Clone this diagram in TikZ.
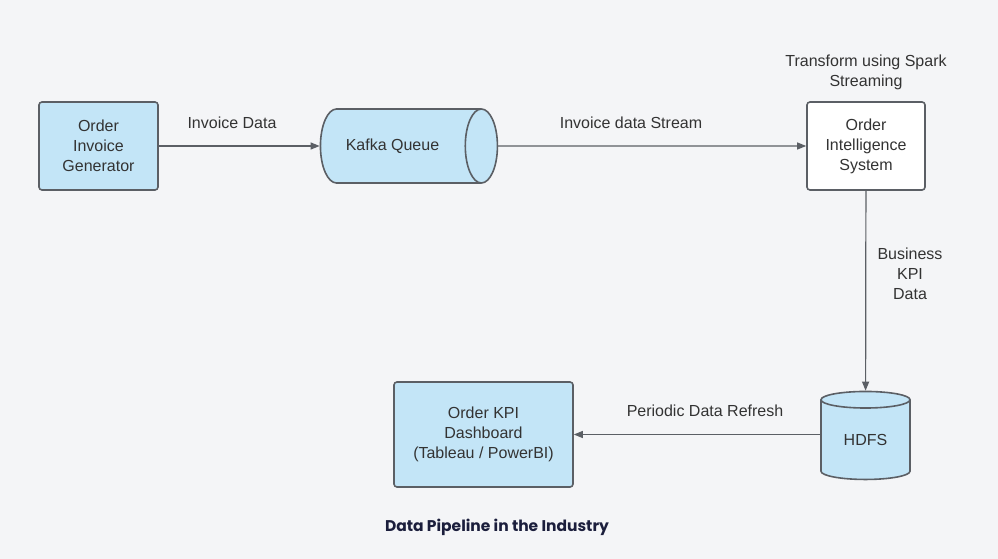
\documentclass[tikz,border=0pt]{standalone}
\usepackage{fontspec}
\setmainfont{Liberation Sans}
\newfontfamily\capfont{Poppins}
\usetikzlibrary{shapes.geometric,arrows.meta}
\definecolor{bg}{HTML}{F4F5F7}
\definecolor{boxblue}{HTML}{C3E5F7}
\definecolor{edge}{HTML}{5B5F65}
\definecolor{txt}{HTML}{333333}
\definecolor{navy}{HTML}{1B1E3C}

\begin{document}
\begin{tikzpicture}[x=1pt,y=-1pt,
  font=\fontsize{16}{20}\selectfont, text=txt,
  box/.style={draw=edge,line width=1.6pt,rounded corners=3pt,align=center,inner sep=0pt},
  tube/.style={draw=edge,line width=1.6pt,fill=boxblue,shape=cylinder,inner sep=0pt,
    cylinder uses custom fill,cylinder body fill=boxblue,cylinder end fill=boxblue},
  flow/.style={draw=edge,line width=1.2pt,-{Triangle[length=9pt,width=7pt]}},
  lbl/.style={align=center}]
% background
\fill[bg] (0,0) rectangle (998,559);
% nodes
\node[box,fill=boxblue,minimum width=119pt,minimum height=88pt] (gen) at (98.5,146) {Order\\Invoice\\Generator};
\node[tube,aspect=2.2,minimum width=74pt,minimum height=177pt] (kafka) at (400.5,146) {\hspace*{-16pt}Kafka Queue};
\node[box,fill=white,minimum width=118pt,minimum height=88pt] (ois) at (866,146) {Order\\Intelligence\\System};
\node[tube,shape border rotate=90,aspect=0.38,minimum width=89pt,minimum height=88pt] (hdfs) at (865.5,440) {\raisebox{-6pt}{HDFS}};
\node[box,fill=boxblue,minimum width=179pt,minimum height=105pt] (dash) at (483.5,434.5) {Order KPI\\Dashboard\\(Tableau / PowerBI)};
% labels
\node[lbl] (spark) at (866,72) {Transform using Spark\\Streaming};
\node[lbl] (l1) at (232,123) {Invoice Data};
\node[lbl] (l2) at (631,123) {Invoice data Stream};
\node[lbl] (l3) at (910,273.5) {Business\\KPI\\Data};
\node[lbl] (l4) at (705,411) {Periodic Data Refresh};
% connectors
\draw[flow] (gen) -- (kafka);
\draw[flow] (kafka) -- (ois);
\draw[flow] (ois) -- (hdfs);
\draw[flow] (hdfs.west |- dash) -- (dash);
% caption
\node[text=navy,font=\capfont\bfseries\fontsize{15.5}{18}\selectfont] (cap) at (497,527) {Data Pipeline in the Industry};
\end{tikzpicture}
\end{document}
